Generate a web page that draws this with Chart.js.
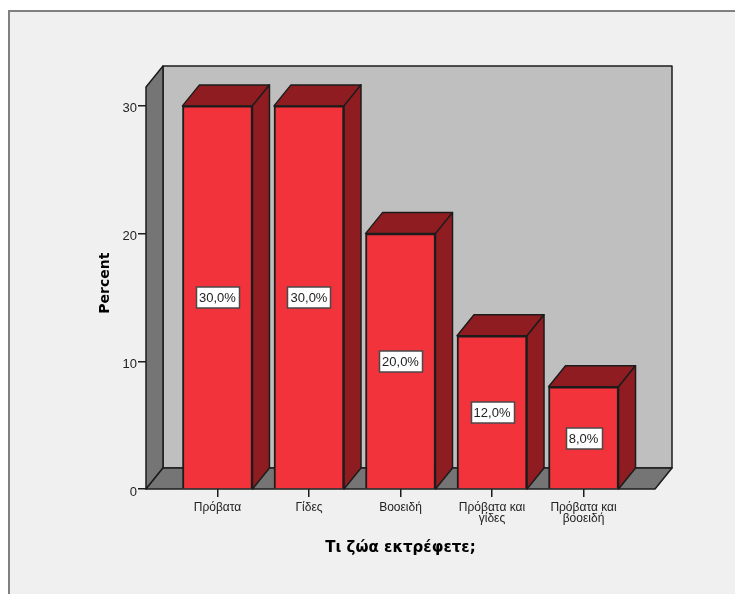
<!DOCTYPE html>
<html>
<head>
<meta charset="utf-8">
<title>Τι ζώα εκτρέφετε;</title>
<script src="https://cdn.jsdelivr.net/npm/chart.js@4"></script>
<style>
html, body { margin: 0; padding: 0; background: #fff; overflow: hidden; }
#wrap { position: relative; width: 735px; height: 594px; }
</style>
</head>
<body>
<div id="wrap"><canvas id="barChart" width="735" height="594"></canvas></div>
<script>
const categories = ["Πρόβατα", "Γίδες", "Βοοειδή", ["Πρόβατα και", "γίδες"], ["Πρόβατα και", "βοοειδή"]]
const percents = [30, 30, 20, 12, 8]
const yTicks = [0, 10, 20, 30]
const xTitle = "Τι ζώα εκτρέφετε;"
const yTitle = "Percent"

const lineColor = "#1c1c1c"
const wallColor = "#bfbfbf"
const sideColor = "#757575"
const barColor = "#f2333b"
const barDark = "#8f1c20"
const depthX = 17
const depthY = 21

function poly(ctx, points, fill) {
	ctx.beginPath()
	points.forEach((p, i) => i ? ctx.lineTo(p[0], p[1]) : ctx.moveTo(p[0], p[1]))
	ctx.closePath()
	ctx.fillStyle = fill
	ctx.fill()
	ctx.stroke()
}

// SPSS style frame, back wall, floor and the bar depth faces
const box3d = {
	id: "box3d",
	beforeDraw(chart) {
		const ctx = chart.ctx
		ctx.save()
		ctx.fillStyle = "#fff"
		ctx.fillRect(0, 0, chart.width, chart.height)
		ctx.fillStyle = "#f0f0f0"
		ctx.fillRect(9, 11, chart.width, chart.height)
		ctx.strokeStyle = "#808080"
		ctx.lineWidth = 2
		ctx.beginPath()
		ctx.moveTo(9, chart.height)
		ctx.lineTo(9, 11)
		ctx.lineTo(chart.width, 11)
		ctx.stroke()
		ctx.restore()
	},
	beforeDatasetsDraw(chart) {
		const ctx = chart.ctx
		const { left, right, top, bottom } = chart.chartArea
		ctx.save()
		ctx.strokeStyle = lineColor
		ctx.lineWidth = 1.5
		ctx.lineJoin = "round"
		poly(ctx, [[left + depthX, top - depthY], [right + depthX, top - depthY], [right + depthX, bottom - depthY], [left + depthX, bottom - depthY]], wallColor)
		poly(ctx, [[left, top], [left + depthX, top - depthY], [left + depthX, bottom - depthY], [left, bottom]], sideColor)
		poly(ctx, [[left, bottom], [left + depthX, bottom - depthY], [right + depthX, bottom - depthY], [right, bottom]], sideColor)
		chart.getDatasetMeta(0).data.forEach(bar => {
			const l = bar.x - bar.width / 2
			const r = bar.x + bar.width / 2
			poly(ctx, [[l, bar.y], [l + depthX, bar.y - depthY], [r + depthX, bar.y - depthY], [r, bar.y]], barDark)
			poly(ctx, [[r, bar.y], [r + depthX, bar.y - depthY], [r + depthX, bottom - depthY], [r, bottom]], barDark)
		})
		ctx.restore()
	},
	afterDatasetsDraw(chart) {
		const ctx = chart.ctx
		const bottom = chart.chartArea.bottom
		ctx.save()
		ctx.font = "13px 'Liberation Sans'"
		ctx.textAlign = "center"
		ctx.textBaseline = "middle"
		chart.getDatasetMeta(0).data.forEach((bar, i) => {
			const text = percents[i].toFixed(1).replace(".", ",") + "%"
			const w = Math.round(ctx.measureText(text).width + 6)
			const cy = Math.round((bar.y + bottom) / 2)
			const x = Math.round(bar.x - w / 2) + 0.5
			ctx.fillStyle = "#fff"
			ctx.fillRect(x, cy - 10, w, 21)
			ctx.strokeStyle = "#4a4a4a"
			ctx.lineWidth = 1.5
			ctx.strokeRect(x, cy - 10, w, 21)
			ctx.fillStyle = "#222"
			ctx.fillText(text, bar.x, cy + 1)
		})
		ctx.restore()
	}
}

new Chart(
	document.getElementById("barChart"),
	{
		type: "bar",
		data: {
			datasets: [{
				data: percents.map((v, i) => ({ x: i, y: v })),
				backgroundColor: barColor,
				borderColor: lineColor,
				borderWidth: 2,
				barThickness: 70
			}]
		},
		options: {
			responsive: false,
			animation: false,
			events: [],
			layout: { padding: { top: 87, right: 80, left: 0, bottom: 0 } },
			plugins: { legend: { display: false }, tooltip: { enabled: false } },
			scales: {
				x: {
					type: "linear",
					offset: false,
					min: -0.781,
					max: 4.781,
					afterBuildTicks: axis => { axis.ticks = categories.map((c, i) => ({ value: i })) },
					afterFit: axis => { axis.height = 105 },
					border: { display: false },
					grid: { display: true, offset: false, drawOnChartArea: false, drawTicks: true, tickLength: 8, color: lineColor, lineWidth: 1.5 },
					ticks: {
						autoSkip: false,
						maxRotation: 0,
						padding: 5,
						color: "#222",
						font: { family: "'Liberation Sans'", size: 12, lineHeight: 0.92 },
						callback: (value, i) => categories[i]
					},
					title: {
						display: true,
						text: xTitle,
						color: "#000",
						font: { family: "'DejaVu Sans'", size: 15, weight: "bold" },
						padding: { top: 0, bottom: 37 }
					}
				},
				y: {
					min: 0,
					max: 31.48,
					afterBuildTicks: axis => { axis.ticks = yTicks.map(v => ({ value: v })) },
					afterFit: axis => { axis.width = 146 },
					border: { display: false },
					grid: { display: true, drawOnChartArea: false, drawTicks: true, tickLength: 8, color: lineColor, lineWidth: 1.5 },
					ticks: {
						padding: 1,
						color: "#222",
						font: { family: "'Liberation Sans'", size: 13, lineHeight: 0.46 },
						// empty first line pushes the number a bit under the tick, like the original
						callback: value => ["", String(value)]
					},
					title: {
						display: true,
						text: "  " + yTitle,
						color: "#000",
						font: { family: "'DejaVu Sans'", size: 14, weight: "bold" },
						padding: { top: 97, bottom: 0 }
					}
				}
			}
		},
		plugins: [box3d]
	}
)
</script>
</body>
</html>
